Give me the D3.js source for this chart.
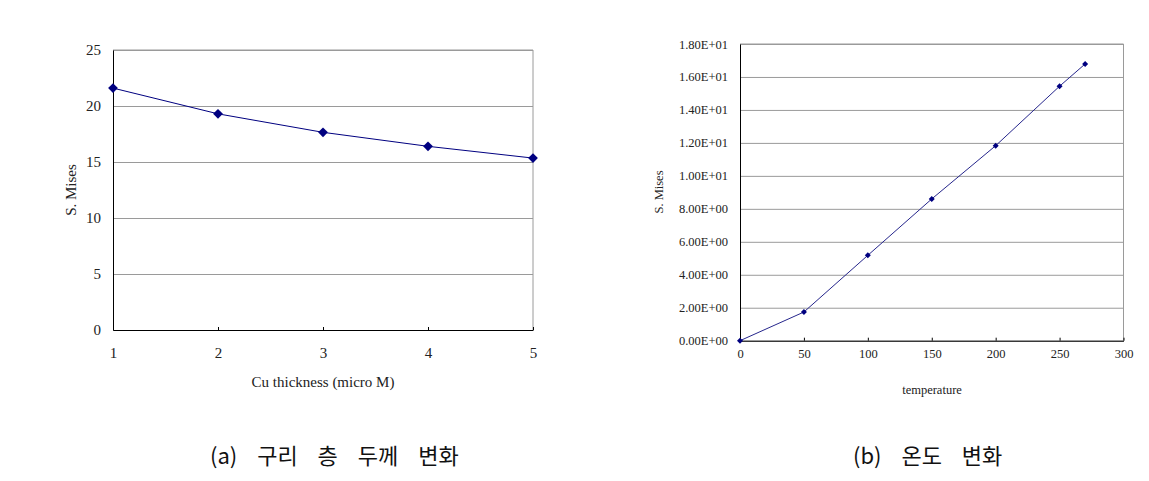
<!DOCTYPE html>
<html>
<head>
<meta charset="utf-8">
<script src="https://cdn.jsdelivr.net/npm/d3@7"></script>
<style>
  body { margin: 0; background: #fff; }
  svg { display: block; }
</style>
</head>
<body>
<script>
// (a) Cu thickness vs S. Mises
const thickness = [1, 2, 3, 4, 5];
const misesByThickness = [21.6, 19.3, 17.65, 16.4, 15.35];
const thicknessTicks = [1, 2, 3, 4, 5];
const misesTicksA = [0, 5, 10, 15, 20, 25];

// (b) temperature vs S. Mises
const temperature = [0, 50, 100, 150, 200, 250, 270];
const misesByTemperature = [0, 1.74, 5.18, 8.6, 11.83, 15.44, 16.79];
const temperatureTicks = [0, 50, 100, 150, 200, 250, 300];
const misesTicksB = [0, 2, 4, 6, 8, 10, 12, 14, 16, 18];

const captions = ["(a) 구리 층 두께 변화", "(b) 온도 변화"];

const svg = d3.select("body").append("svg")
    .attr("width", 1149)
    .attr("height", 481);

// Excel style 1.80E+01
function sciFormat(v) {
    const [m, e] = v.toExponential(2).toUpperCase().split("E");
    const sign = e[0];
    const digits = e.slice(1).padStart(2, "0");
    return `${m}E${sign}${digits}`;
}

function drawChart(cfg) {
    const x = d3.scaleLinear().domain(cfg.xDomain).range([cfg.left, cfg.right]);
    const y = d3.scaleLinear().domain(cfg.yDomain).range([cfg.bottom, cfg.top]);
    const g = svg.append("g");
    const w = cfg.right - cfg.left;

    // gridlines
    g.append("g")
        .attr("transform", `translate(${cfg.left},0)`)
        .call(d3.axisLeft(y).tickValues(cfg.yTicks).tickSize(-w).tickFormat(""))
        .call(a => a.select(".domain").remove())
        .call(a => a.selectAll("line").attr("stroke", "#9a9a9a"));

    // plot border top/right
    g.append("path")
        .attr("d", `M${cfg.left},${cfg.top}H${cfg.right}V${cfg.bottom}`)
        .attr("fill", "none")
        .attr("stroke", "#9a9a9a");

    // y axis
    g.append("g")
        .attr("transform", `translate(${cfg.left},0)`)
        .call(d3.axisLeft(y).tickValues(cfg.yTicks).tickSize(0).tickPadding(cfg.yPad).tickFormat(cfg.yFormat))
        .call(a => a.select(".domain").attr("stroke", "#000"))
        .call(a => a.selectAll("text")
            .attr("font-family", "Liberation Serif")
            .attr("font-size", cfg.fontSize)
            .attr("fill", "#222"));

    // x axis, ticks pointing into the plot
    g.append("g")
        .attr("transform", `translate(0,${cfg.bottom})`)
        .call(d3.axisBottom(x).tickValues(cfg.xTicks).tickFormat(d3.format("d"))
            .tickSizeInner(-3).tickSizeOuter(0).tickPadding(cfg.xPad))
        .call(a => a.select(".domain").attr("stroke", "#000"))
        .call(a => a.selectAll("line").attr("stroke", "#000"))
        .call(a => a.selectAll("text")
            .attr("font-family", "Liberation Serif")
            .attr("font-size", cfg.fontSize)
            .attr("fill", "#222"));

    // titles
    g.append("text")
        .attr("x", cfg.xTitlePos[0]).attr("y", cfg.xTitlePos[1])
        .attr("text-anchor", "middle")
        .attr("dominant-baseline", "central")
        .attr("font-family", "Liberation Serif")
        .attr("font-size", cfg.titleSize)
        .attr("fill", "#222")
        .text(cfg.xTitle);
    g.append("text")
        .attr("transform", `translate(${cfg.yTitlePos[0]},${cfg.yTitlePos[1]}) rotate(-90)`)
        .attr("text-anchor", "middle")
        .attr("dominant-baseline", "central")
        .attr("font-family", "Liberation Serif")
        .attr("font-size", cfg.titleSize)
        .attr("fill", "#222")
        .text("S. Mises");

    const pts = cfg.xs.map((d, i) => [d, cfg.ys[i]]);
    g.append("path")
        .datum(pts)
        .attr("fill", "none")
        .attr("stroke", cfg.lineColor)
        .attr("stroke-width", 1)
        .attr("d", d3.line().x(d => x(d[0])).y(d => y(d[1])));

    g.selectAll(".mk")
        .data(pts)
        .join("path")
        .attr("d", d3.symbol().type(d3.symbolSquare).size(cfg.markSize))
        .attr("transform", d => `translate(${x(d[0])},${y(d[1])}) rotate(45)`)
        .attr("fill", "#000080");
}

drawChart({
    xs: thickness, ys: misesByThickness,
    xDomain: [1, 5], yDomain: [0, 25],
    xTicks: thicknessTicks, yTicks: misesTicksA,
    left: 113, right: 533, top: 50, bottom: 330,
    yFormat: d3.format("d"), yPad: 12, xPad: 17,
    fontSize: 15, titleSize: 15,
    xTitle: "Cu thickness (micro M)", xTitlePos: [323, 382],
    yTitlePos: [71, 190],
    lineColor: "#000080", markSize: 48
});

drawChart({
    xs: temperature, ys: misesByTemperature,
    xDomain: [0, 300], yDomain: [0, 18],
    xTicks: temperatureTicks, yTicks: misesTicksB,
    left: 740, right: 1123.5, top: 44, bottom: 340.7,
    yFormat: sciFormat, yPad: 12, xPad: 8,
    fontSize: 12.5, titleSize: 12.5,
    xTitle: "temperature", xTitlePos: [932, 390],
    yTitlePos: [659, 192],
    lineColor: "#26268c", markSize: 18
});

// captions under each chart
svg.selectAll(".cap")
    .data(captions)
    .join("text")
    .attr("x", (d, i) => i === 0 ? 210 : 853)
    .attr("y", 464)
    .attr("font-family", "Noto Sans CJK KR")
    .attr("font-size", 22)
    .attr("word-spacing", 15)
    .attr("fill", "#111")
    .text(d => d);
</script>
</body>
</html>
